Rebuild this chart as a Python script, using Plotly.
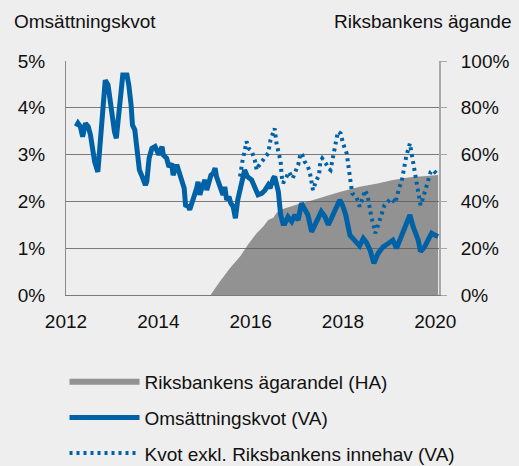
import plotly.graph_objects as go

# --- data ---
kvot_years = [2012.22, 2012.26, 2012.31, 2012.36, 2012.42, 2012.48, 2012.53, 2012.58, 2012.62, 2012.69,
              2012.72, 2012.76, 2012.82, 2012.85, 2012.91, 2012.96, 2013.00, 2013.05, 2013.09, 2013.14,
              2013.20, 2013.23, 2013.32, 2013.36, 2013.41, 2013.44, 2013.49, 2013.54, 2013.59, 2013.65,
              2013.72, 2013.75, 2013.80, 2013.86, 2013.93, 2014.01, 2014.08, 2014.11, 2014.18, 2014.23,
              2014.29, 2014.32, 2014.40, 2014.45, 2014.50, 2014.56, 2014.59, 2014.65, 2014.68, 2014.73,
              2014.78, 2014.83, 2014.86, 2014.90, 2014.94, 2014.97, 2015.01, 2015.05, 2015.10, 2015.14,
              2015.19, 2015.23, 2015.26, 2015.31, 2015.35, 2015.40, 2015.44, 2015.48, 2015.53, 2015.57,
              2015.62, 2015.67, 2015.72, 2015.77, 2015.82, 2015.87, 2015.93, 2016.02, 2016.09, 2016.16,
              2016.24, 2016.31, 2016.38, 2016.42, 2016.49, 2016.52, 2016.60, 2016.65, 2016.70, 2016.74,
              2016.81, 2016.89, 2016.96, 2017.03, 2017.10, 2017.17, 2017.24, 2017.32, 2017.39, 2017.46,
              2017.53, 2017.61, 2017.68, 2017.75, 2017.86, 2017.93, 2017.99, 2018.06, 2018.15, 2018.22,
              2018.29, 2018.36, 2018.44, 2018.51, 2018.59, 2018.67, 2018.76, 2018.87, 2018.98, 2019.08,
              2019.16, 2019.23, 2019.34, 2019.45, 2019.52, 2019.63, 2019.68, 2019.77, 2019.84, 2019.92,
              2019.99, 2020.06]
kvot_values = [3.60, 3.67, 3.60, 3.38, 3.67, 3.60, 3.42, 2.99, 2.85, 2.63,
               2.99, 3.20, 4.20, 4.59, 4.49, 4.06, 3.74, 3.49, 3.35, 3.85,
               4.31, 4.70, 4.70, 4.49, 4.06, 3.63, 3.53, 3.13, 2.67, 2.53,
               2.35, 2.42, 2.92, 3.13, 3.17, 3.00, 3.17, 2.99, 2.92, 2.74,
               2.81, 2.56, 2.78, 2.63, 2.49, 2.28, 1.92, 1.89, 1.82, 1.96,
               2.17, 2.28, 2.42, 2.14, 2.28, 2.39, 2.46, 2.24, 2.39, 2.56,
               2.60, 2.71, 2.53, 2.39, 2.24, 2.14, 2.31, 2.03, 2.10, 1.96,
               1.89, 1.64, 2.03, 2.31, 2.46, 2.67, 2.53, 2.46, 2.31, 2.14,
               2.17, 2.24, 2.35, 2.28, 2.49, 2.53, 2.21, 1.71, 1.53, 1.53,
               1.67, 1.57, 1.71, 1.60, 1.96, 1.82, 1.71, 1.35, 1.50, 1.67,
               1.78, 1.67, 1.50, 1.64, 1.85, 2.03, 1.92, 1.71, 1.28, 1.21,
               1.14, 1.05, 1.21, 1.12, 0.95, 0.68, 0.89, 1.03, 1.10, 1.17,
               1.00, 1.17, 1.44, 1.71, 1.46, 1.17, 0.93, 1.03, 1.17, 1.32,
               1.28, 1.25]

exkl_years = [2015.77, 2015.79, 2015.82, 2015.86, 2015.91, 2015.96, 2016.02, 2016.09, 2016.13, 2016.16,
              2016.24, 2016.31, 2016.38, 2016.43, 2016.49, 2016.52, 2016.56, 2016.62, 2016.65, 2016.67,
              2016.70, 2016.76, 2016.83, 2016.91, 2016.98, 2017.03, 2017.08, 2017.12, 2017.17, 2017.24,
              2017.28, 2017.32, 2017.35, 2017.41, 2017.48, 2017.51, 2017.55, 2017.63, 2017.68, 2017.73,
              2017.79, 2017.84, 2017.89, 2017.95, 2018.00, 2018.08, 2018.11, 2018.15, 2018.20, 2018.29,
              2018.36, 2018.44, 2018.47, 2018.53, 2018.58, 2018.62, 2018.67, 2018.70, 2018.75, 2018.80,
              2018.85, 2018.90, 2018.98, 2019.03, 2019.08, 2019.13, 2019.18, 2019.21, 2019.27, 2019.30,
              2019.34, 2019.37, 2019.41, 2019.45, 2019.48, 2019.52, 2019.55, 2019.59, 2019.64, 2019.68,
              2019.73, 2019.78, 2019.84, 2019.90, 2019.95, 2020.00, 2020.06]
exkl_values = [2.53, 2.71, 2.85, 3.03, 3.28, 3.13, 3.08, 2.88, 2.67, 2.74,
               2.85, 2.92, 3.03, 3.31, 3.45, 3.56, 3.24, 3.03, 2.85, 2.56,
               2.39, 2.49, 2.63, 2.49, 2.67, 2.78, 3.03, 2.99, 2.85, 2.74,
               2.63, 2.42, 2.24, 2.42, 2.56, 2.85, 2.92, 2.81, 2.71, 2.67,
               2.96, 3.17, 3.49, 3.45, 3.24, 3.03, 2.81, 2.46, 2.17, 2.10,
               1.89, 2.10, 2.24, 2.14, 1.82, 1.64, 1.46, 1.32, 1.46, 1.60,
               1.78, 1.92, 2.00, 2.06, 2.03, 1.96, 2.14, 2.28, 2.42, 2.60,
               2.78, 2.96, 3.10, 3.24, 3.06, 2.85, 2.63, 2.46, 2.24, 1.92,
               2.06, 2.24, 2.42, 2.63, 2.67, 2.63, 2.56]

andel_years = [2015.13, 2015.33, 2015.55, 2015.77, 2015.94, 2016.13, 2016.27, 2016.38, 2016.49, 2016.56,
               2016.63, 2016.85, 2017.06, 2017.28, 2017.50, 2017.71, 2017.93, 2018.15, 2018.36, 2018.75,
               2019.08, 2019.45, 2019.81, 2020.06]
andel_values = [0.0, 5.7, 11.4, 16.4, 21.5, 26.4, 29.2, 32.0, 33.0, 35.0,
                36.3, 37.7, 39.0, 40.2, 41.5, 42.7, 44.0, 45.2, 46.3, 47.7,
                49.1, 50.3, 50.9, 51.3]

year_ticks = [2012, 2014, 2016, 2018, 2020]
year_labels = ["2012", "2014", "2016", "2018", "2020"]
left_ticks = [0, 1, 2, 3, 4, 5]
right_ticks = [0, 20, 40, 60, 80, 100]

BLUE = "#0062a6"
BG = "#eeeeee"
FONT = "Liberation Sans, Arial, Helvetica, sans-serif"

fig = go.Figure()
fig.add_trace(go.Scatter(
    x=andel_years, y=andel_values, mode="none", fill="tozeroy",
    fillcolor="rgba(89,89,89,0.61)", name="Riksbankens ägarandel (HA)",
    yaxis="y", legendgroup="a"))
fig.add_trace(go.Scatter(
    x=kvot_years, y=kvot_values, mode="lines",
    line=dict(color=BLUE, width=5), name="Omsättningskvot (VA)",
    yaxis="y2", legendgroup="b"))
fig.add_trace(go.Scatter(
    x=exkl_years, y=exkl_values, mode="lines",
    line=dict(color=BLUE, width=4, dash="3px,4px"),
    name="Kvot exkl. Riksbankens innehav (VA)",
    yaxis="y2", legendgroup="c"))

fig.update_layout(
    width=519, height=466,
    margin=dict(l=66, r=80, t=61, b=171, autoexpand=False),
    paper_bgcolor=BG, plot_bgcolor=BG,
    font=dict(family=FONT, size=19, color="#111111"),
    xaxis=dict(range=[2012, 2020.08], tickvals=year_ticks, ticktext=year_labels,
               showgrid=False, zeroline=False, showline=True, linecolor="#7a7a7a",
               linewidth=1, ticks="", ticklabelstandoff=9, automargin=False),
    yaxis=dict(side="right", range=[0, 100], tickvals=right_ticks,
               ticktext=[f"{v}%" for v in right_ticks],
               showgrid=False, zeroline=False, showline=True, linecolor="#a8a8a8",
               linewidth=2, ticks="outside", ticklen=6, tickcolor="#a8a8a8", tickwidth=1,
               ticklabelstandoff=10, automargin=False),
    yaxis2=dict(side="left", overlaying="y", range=[0, 5], tickvals=left_ticks,
                ticktext=[f"{v}%" for v in left_ticks],
                showgrid=True, gridcolor="#7a7a7a", gridwidth=1, zeroline=False,
                showline=True, linecolor="#8a8a8a", linewidth=1, ticks="",
                ticklabelstandoff=16, automargin=False),
    legend=dict(x=-0.004, y=-0.29, xanchor="left", yanchor="top",
                bgcolor="rgba(0,0,0,0)", font=dict(size=19),
                itemwidth=70, tracegroupgap=8, traceorder="grouped"),
    annotations=[
        dict(text="Omsättningskvot", xref="paper", yref="paper", x=-0.145, y=1.167,
             xanchor="left", yanchor="middle", showarrow=False, font=dict(size=19)),
        dict(text="Riksbankens ägande", xref="paper", yref="paper", x=1.198, y=1.167,
             xanchor="right", yanchor="middle", showarrow=False, font=dict(size=19)),
    ],
)

fig.write_html("out.html", config={"displayModeBar": False},
               post_script="document.body.style.margin='0px';document.body.style.background='#eeeeee';")
